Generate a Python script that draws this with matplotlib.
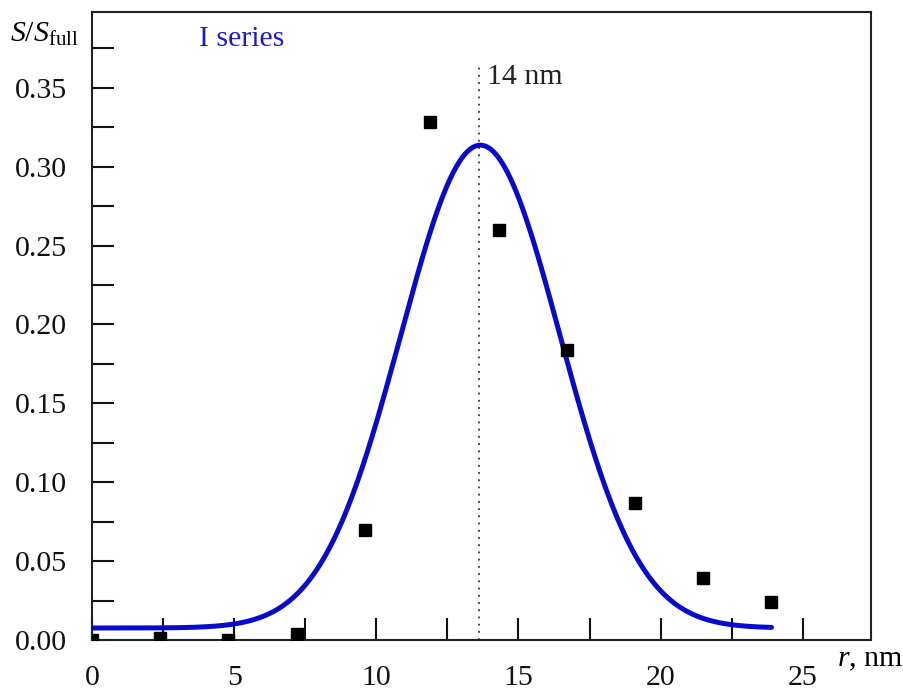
import numpy as np
from matplotlib import pyplot as plt

plt.rcParams['font.family'] = ['Liberation Serif', 'DejaVu Serif']
plt.rcParams['mathtext.fontset'] = 'custom'
plt.rcParams['mathtext.rm'] = 'Liberation Serif'
plt.rcParams['mathtext.it'] = 'Liberation Serif:italic'

# measured points
r_pts = [0.0, 2.4, 4.8, 7.2, 9.6, 11.9, 14.3, 16.7, 19.1, 21.5, 23.9]
s_pts = [0.0, 0.001, 0.0, 0.004, 0.070, 0.328, 0.260, 0.184, 0.087, 0.039, 0.024]

# gaussian fit parameters
fit_center = 13.66
fit_sigma = 2.8
fit_amp = 0.306
fit_base = 0.0076
fit_range = (0.0, 23.9)

peak_r = 13.6
peak_label = '14 nm'

x_ticks = [0, 5, 10, 15, 20, 25]
y_ticks = [0.00, 0.05, 0.10, 0.15, 0.20, 0.25, 0.30, 0.35]

fs = 21.5

fig = plt.figure(figsize=(9.04, 6.91), dpi=100)
ax = fig.add_axes([0.1018, 0.0738, 0.8617, 0.9088])

r_fit = np.linspace(fit_range[0], fit_range[1], 400)
s_fit = fit_base + fit_amp * np.exp(-(r_fit - fit_center) ** 2 / (2 * fit_sigma ** 2))
ax.plot(r_fit, s_fit, color='#0a0acc', lw=3.6, solid_capstyle='round', zorder=3)
ax.plot(r_pts, s_pts, 's', color='black', ms=9, zorder=4)

ax.plot([peak_r, peak_r], [0, 0.366], color='#333333', lw=1.3,
        linestyle=(0, (1, 3)), zorder=2)
ax.text(peak_r + 0.3, 0.357, peak_label, fontsize=fs, color='#222222', va='center')
ax.text(3.75, 0.381, 'I series', fontsize=fs, color='#1a1acc', va='center')

ax.set_xlim(0, 27.4)
ax.set_ylim(0, 0.398)
ax.set_xticks(x_ticks)
ax.set_xticks(np.arange(2.5, 25.1, 5), minor=True)
ax.set_yticks(y_ticks)
ax.set_yticks(np.arange(0.025, 0.38, 0.05), minor=True)
ax.set_yticklabels([f'{v:.2f}' for v in y_ticks])

ax.tick_params(which='both', direction='in', length=16, width=1.5,
               top=False, right=False, labelsize=fs, colors='#111111')
ax.tick_params(axis='y', pad=18)
ax.tick_params(axis='x', pad=18)
for sp in ax.spines.values():
    sp.set_linewidth(1.5)
    sp.set_color('#222222')

fig.text(0.011, 0.95, r'$S/S_{\mathrm{full}}$', fontsize=fs, va='center')
fig.text(0.926, 0.045, r'$r$, nm', fontsize=fs, va='center')

fig.savefig('out.png', dpi=100)
